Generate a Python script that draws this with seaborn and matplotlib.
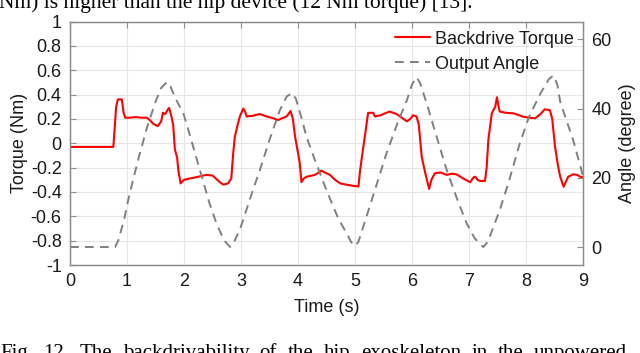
import numpy as np
import pandas as pd
import matplotlib
matplotlib.use('Agg')
import matplotlib.pyplot as plt
import seaborn as sns

# torque trace (time in s, torque in Nm)
torque_t = [0.0, 0.76, 0.78, 0.81, 0.84, 0.91, 0.94, 0.97, 1.05, 1.15,
            1.25, 1.35, 1.40, 1.46, 1.54, 1.60, 1.63, 1.67, 1.72, 1.74,
            1.78, 1.81, 1.84, 1.88, 1.90, 1.94, 2.0, 2.1, 2.2, 2.3,
            2.39, 2.5, 2.56, 2.63, 2.69, 2.77, 2.83, 2.86, 2.89, 2.94,
            2.98, 3.04, 3.07, 3.1, 3.2, 3.33, 3.45, 3.57, 3.65, 3.72,
            3.80, 3.87, 3.91, 3.95, 4.0, 4.03, 4.06, 4.10, 4.15, 4.3,
            4.41, 4.47, 4.56, 4.65, 4.74, 4.85, 4.97, 5.06, 5.09, 5.14,
            5.18, 5.23, 5.32, 5.35, 5.45, 5.55, 5.61, 5.73, 5.82, 5.91,
            5.97, 6.02, 6.08, 6.12, 6.17, 6.23, 6.30, 6.34, 6.40, 6.5,
            6.61, 6.7, 6.78, 6.9, 7.02, 7.08, 7.11, 7.15, 7.19, 7.28,
            7.31, 7.34, 7.40, 7.46, 7.49, 7.52, 7.54, 7.65, 7.78, 7.88,
            7.95, 8.05, 8.16, 8.25, 8.33, 8.42, 8.46, 8.51, 8.56, 8.60,
            8.66, 8.74, 8.83, 8.90, 8.95, 9.0]
torque_v = [-0.03, -0.03, 0.10, 0.30, 0.36, 0.36, 0.25, 0.21, 0.21, 0.215,
            0.21, 0.21, 0.19, 0.16, 0.14, 0.18, 0.25, 0.24, 0.28, 0.29,
            0.22, 0.15, -0.05, -0.12, -0.22, -0.33, -0.30, -0.29, -0.28, -0.27,
            -0.26, -0.265, -0.29, -0.32, -0.34, -0.33, -0.29, -0.10, 0.05, 0.15,
            0.22, 0.285, 0.26, 0.22, 0.225, 0.24, 0.22, 0.205, 0.19, 0.205,
            0.22, 0.265, 0.20, 0.05, -0.08, -0.16, -0.32, -0.29, -0.275, -0.26,
            -0.225, -0.24, -0.26, -0.30, -0.33, -0.34, -0.35, -0.355, -0.22, -0.05,
            0.08, 0.25, 0.25, 0.22, 0.23, 0.25, 0.26, 0.24, 0.21, 0.18,
            0.20, 0.23, 0.22, 0.15, -0.11, -0.24, -0.375, -0.30, -0.247, -0.24,
            -0.26, -0.25, -0.255, -0.29, -0.32, -0.28, -0.275, -0.30, -0.31, -0.31,
            -0.20, 0.03, 0.246, 0.30, 0.378, 0.30, 0.26, 0.25, 0.246, 0.23,
            0.218, 0.21, 0.205, 0.238, 0.279, 0.27, 0.20, -0.03, -0.18, -0.275,
            -0.357, -0.275, -0.255, -0.26, -0.275, -0.28]

# output angle trace (time in s, angle in degree)
angle_t = [0.0, 0.79, 0.85, 0.95, 1.02, 1.1, 1.2, 1.35, 1.5, 1.6,
           1.70, 1.76, 1.85, 1.99, 2.1, 2.28, 2.45, 2.57, 2.7, 2.81,
           2.88, 2.98, 3.1, 3.2, 3.33, 3.5, 3.68, 3.8, 3.89, 3.96,
           4.05, 4.15, 4.3, 4.5, 4.7, 4.85, 4.93, 5.0, 5.06, 5.2,
           5.35, 5.55, 5.75, 5.91, 6.0, 6.08, 6.14, 6.26, 6.43, 6.61,
           6.8, 6.96, 7.1, 7.25, 7.33, 7.54, 7.7, 7.89, 8.05, 8.25,
           8.4, 8.48, 8.55, 8.6, 8.65, 8.83, 9.0]
angle_v = [0.0, 0.0, 2.0, 8.0, 13.5, 19.0, 25.5, 34.5, 42.0, 46.0,
           47.7, 46.5, 43.0, 38.6, 32.5, 22.2, 12.5, 6.8, 2.0, 0.0,
           1.5, 5.0, 11.0, 16.0, 22.2, 31.0, 39.5, 43.5, 44.5, 43.0,
           38.0, 31.8, 25.0, 16.4, 8.5, 4.0, 1.5, 0.3, 1.5, 8.7,
           16.5, 27.0, 36.0, 42.4, 47.0, 49.1, 47.5, 41.4, 32.0, 22.2,
           13.5, 6.8, 2.5, 0.0, 1.5, 10.7, 19.0, 29.9, 37.5, 44.3,
           48.5, 49.6, 47.0, 42.0, 39.5, 30.8, 20.5]

x_ticks = list(range(0, 10))
y_ticks = [-1, -0.8, -0.6, -0.4, -0.2, 0, 0.2, 0.4, 0.6, 0.8, 1]
y_labels = ['-1', '-0.8', '-0.6', '-0.4', '-0.2', '0', '0.2', '0.4', '0.6', '0.8', '1']
angle_ticks = [0, 20, 40, 60]

top_line = 'Nm) is higher than the hip device (12 Nm torque) [13].'
caption_words = ['Fig.', '12.', 'The', 'backdrivability', 'of', 'the', 'hip',
                 'exoskeleton', 'in', 'the', 'unpowered']

torque_df = pd.DataFrame({'t': torque_t, 'torque': torque_v})
angle_df = pd.DataFrame({'t': angle_t, 'angle': angle_v})

sns.set_theme(style='white')
plt.rcParams['font.family'] = ['Liberation Sans', 'DejaVu Sans']
plt.rcParams['axes.unicode_minus'] = False

fig = plt.figure(figsize=(6.4, 3.53), dpi=100)
ax1 = fig.add_axes([70 / 640, 1 - 265 / 353, 513 / 640, 243.5 / 353])
ax2 = ax1.twinx()

sns.lineplot(data=torque_df, x='t', y='torque', ax=ax1, color='#ff0000',
             linewidth=1.5, label='Backdrive Torque', legend=False)
sns.lineplot(data=angle_df, x='t', y='angle', ax=ax2, color='#808080',
             linewidth=1.4, label='Output Angle', legend=False)
ax2.lines[0].set_dashes([4.5, 3.2])

ax1.set_xlim(0, 9)
ax1.set_ylim(-1, 1)
ax2.set_ylim(-5.2, 65.2)
ax1.set_xticks(x_ticks)
ax1.set_yticks(y_ticks)
ax1.set_yticklabels(y_labels)
ax2.set_yticks(angle_ticks)

ax1.grid(True, color='#e6e6e6', linewidth=0.8)
ax1.set_axisbelow(True)

txt = '#1a1a1a'
for ax in (ax1, ax2):
    for s in ax.spines.values():
        s.set_color('#8c8c8c')
        s.set_linewidth(0.9)
ax1.tick_params(axis='both', direction='in', length=4, width=0.8,
                color='#8c8c8c', labelsize=13, labelcolor=txt, top=True, pad=6)
ax2.tick_params(axis='y', direction='in', length=4, width=0.8,
                color='#8c8c8c', labelsize=13, labelcolor=txt, pad=6)

ax1.set_xlabel('Time (s)', fontsize=13, color=txt, labelpad=6)
ax1.set_ylabel('Torque (Nm)', fontsize=13, color=txt, labelpad=2)
ax2.set_ylabel('Angle (degree)', fontsize=13, color=txt, rotation=90, labelpad=5)

h1, l1 = ax1.get_legend_handles_labels()
h2, l2 = ax2.get_legend_handles_labels()
ax2.legend(h1 + h2, l1 + l2, loc='upper right', frameon=False, fontsize=13,
           handlelength=1.9, borderaxespad=0.1, labelspacing=0.45,
           handletextpad=0.3, labelcolor=txt)

# pieces of the paper text around the figure
fig.text(-0.002, 1 - 8 / 353, top_line,
         family='Liberation Serif', fontsize=15.5, va='baseline', color='black')

# justified caption line, words spread from the left edge to x=627 px
fig.canvas.draw()
renderer = fig.canvas.get_renderer()
words = [fig.text(0, 1 - 344 / 353, w, family='Liberation Serif', fontsize=15,
                  va='top', color='black') for w in caption_words]
widths = [w.get_window_extent(renderer).width for w in words]
gap = (627 - sum(widths)) / (len(words) - 1)
xpos = 0.0
for w, wd in zip(words, widths):
    w.set_x(xpos / 640)
    xpos += wd + gap

fig.savefig('out.png', dpi=100)
